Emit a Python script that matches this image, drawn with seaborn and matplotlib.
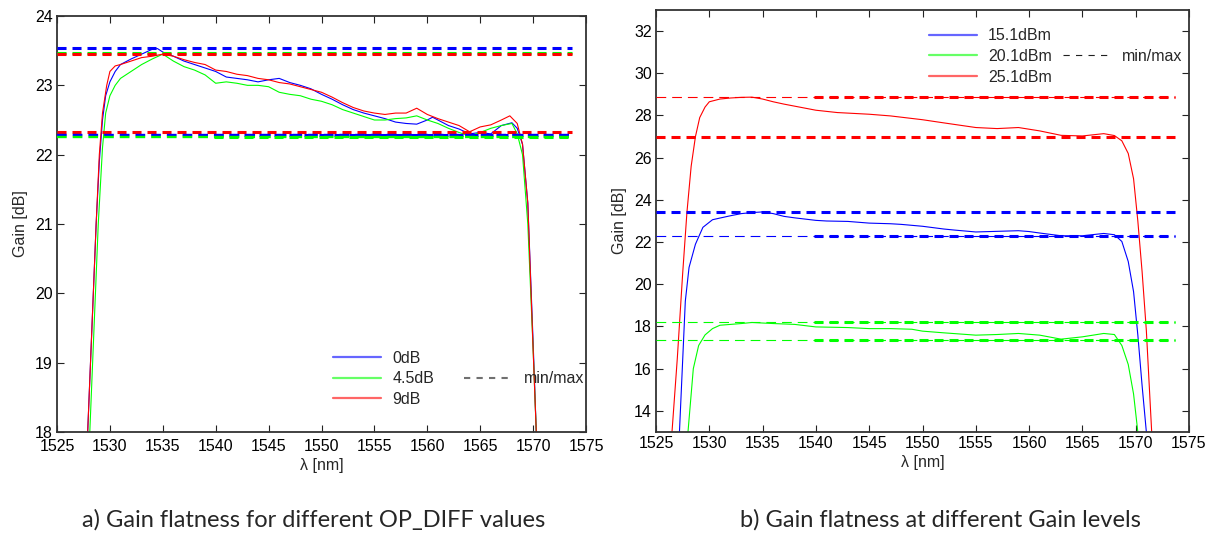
import numpy as np
import pandas as pd
import matplotlib
matplotlib.use("Agg")
import matplotlib.pyplot as plt
import seaborn as sns
from matplotlib.lines import Line2D

# ---------------- data: panel a) ----------------
a_labels = ["0dB", "4.5dB", "9dB"]
a_wl_0 = [1527.9, 1528.3, 1528.7, 1529.0, 1529.3, 1529.6, 1530.0, 1530.5, 1531, 1532, 1533, 1534, 1534.5,
          1535, 1536, 1537, 1538, 1539, 1540, 1541, 1542, 1543, 1544, 1545, 1546, 1547, 1548, 1549, 1550,
          1551, 1552, 1553, 1554, 1555, 1556, 1557, 1558, 1559, 1560, 1560.5, 1561, 1562, 1563, 1564, 1565,
          1566, 1567, 1568, 1568.5, 1569, 1569.5, 1570, 1570.3]
a_g_0 = [18.0, 19.5, 21.0, 21.9, 22.5, 22.85, 23.05, 23.2, 23.3, 23.38, 23.45, 23.52, 23.53,
         23.48, 23.42, 23.35, 23.3, 23.25, 23.2, 23.12, 23.1, 23.08, 23.05, 23.08, 23.1, 23.04, 23.0, 22.95, 22.87,
         22.8, 22.72, 22.65, 22.6, 22.56, 22.52, 22.47, 22.45, 22.44, 22.5, 22.54, 22.5, 22.42, 22.37, 22.3, 22.32,
         22.3, 22.42, 22.46, 22.38, 22.15, 21.3, 19.3, 18.0]
a_wl_45 = [1528.1, 1528.5, 1528.9, 1529.3, 1529.6, 1530.0, 1530.5, 1531, 1532, 1533, 1534, 1535, 1536, 1537,
           1538, 1539, 1540, 1541, 1542, 1543, 1544, 1545, 1546, 1547, 1548, 1549, 1550, 1551, 1552, 1553,
           1554, 1555, 1556, 1557, 1558, 1559, 1560, 1561, 1562, 1563, 1564, 1565, 1566, 1567, 1568, 1568.5,
           1569, 1569.5, 1570, 1570.3]
a_g_45 = [18.0, 19.5, 21.0, 22.1, 22.6, 22.85, 23.0, 23.1, 23.2, 23.3, 23.38, 23.45, 23.35, 23.27,
          23.22, 23.15, 23.03, 23.05, 23.03, 23.0, 23.0, 22.98, 22.9, 22.87, 22.85, 22.8, 22.77, 22.72, 22.65, 22.6,
          22.55, 22.5, 22.5, 22.52, 22.53, 22.56, 22.5, 22.45, 22.38, 22.32, 22.27, 22.32, 22.38, 22.42, 22.45, 22.3,
          22.0, 21.0, 19.2, 18.0]
a_wl_9 = [1527.9, 1528.3, 1528.7, 1529.0, 1529.3, 1529.7, 1530.0, 1530.5, 1531, 1532, 1533, 1534, 1535, 1536,
          1537, 1538, 1539, 1540, 1541, 1542, 1543, 1544, 1545, 1546, 1547, 1548, 1549, 1550, 1551, 1552,
          1553, 1554, 1555, 1556, 1557, 1558, 1559, 1560, 1561, 1562, 1563, 1564, 1565, 1566, 1567, 1567.8,
          1568.5, 1569, 1569.5, 1570, 1570.3]
a_g_9 = [18.0, 19.5, 21.0, 22.0, 22.6, 23.0, 23.2, 23.28, 23.3, 23.35, 23.4, 23.42, 23.45, 23.42,
         23.37, 23.33, 23.3, 23.22, 23.2, 23.16, 23.14, 23.1, 23.08, 23.04, 23.02, 22.98, 22.94, 22.9, 22.83, 22.75,
         22.68, 22.63, 22.6, 22.58, 22.6, 22.6, 22.67, 22.58, 22.52, 22.47, 22.42, 22.33, 22.4, 22.43, 22.5, 22.56,
         22.45, 22.15, 21.3, 19.2, 18.0]
a_max = [23.54, 23.47, 23.45]
a_min = [22.29, 22.26, 22.32]

# ---------------- data: panel b) ----------------
b_labels = ["15.1dBm", "20.1dBm", "25.1dBm"]
b_wl_15 = [1527.2, 1527.75, 1528.1, 1528.7, 1529.4, 1530.3, 1531, 1532, 1533, 1534, 1535, 1536, 1537, 1538,
           1540, 1541, 1543, 1545, 1547, 1548, 1550, 1552, 1553, 1555, 1557, 1559, 1560, 1561, 1563, 1565,
           1567, 1568, 1568.7, 1569.3, 1569.8, 1570.2, 1570.6, 1571.0]
b_g_15 = [13.0, 19.2, 20.8, 21.9, 22.7, 23.06, 23.14, 23.25, 23.35, 23.4, 23.43, 23.35, 23.22, 23.15,
          23.03, 23.0, 22.98, 22.9, 22.87, 22.84, 22.75, 22.62, 22.57, 22.48, 22.51, 22.54, 22.5, 22.43, 22.3, 22.3,
          22.41, 22.35, 22.03, 21.08, 19.65, 17.6, 15.2, 13.0]
b_wl_20 = [1528.0, 1528.5, 1529.0, 1529.6, 1530.3, 1531, 1533, 1534, 1536, 1538, 1540, 1543, 1545, 1547,
           1549, 1550, 1552, 1555, 1557, 1559, 1561, 1563, 1565, 1567, 1568, 1568.7, 1569.3, 1569.8, 1570.2]
b_g_20 = [13.0, 16.0, 17.1, 17.6, 17.9, 18.06, 18.14, 18.19, 18.14, 18.1, 17.98, 17.95, 17.9, 17.9,
          17.87, 17.78, 17.7, 17.59, 17.62, 17.67, 17.59, 17.4, 17.51, 17.67, 17.62, 17.1, 16.2, 14.8, 13.0]
b_wl_25 = [1526.5, 1527.0, 1527.5, 1527.9, 1528.3, 1528.7, 1529.1, 1529.6, 1530, 1531, 1532, 1533, 1534,
           1535, 1536, 1537, 1540, 1542, 1545, 1547, 1550, 1552, 1555, 1557, 1559, 1561, 1563, 1565, 1567,
           1568, 1568.7, 1569.3, 1569.8, 1570.2, 1570.6, 1571.0, 1571.5]
b_g_25 = [13.0, 16.5, 20.5, 23.4, 25.6, 27.0, 27.9, 28.4, 28.65, 28.78, 28.83, 28.86, 28.87,
          28.78, 28.65, 28.54, 28.25, 28.14, 28.06, 27.98, 27.8, 27.65, 27.43, 27.38, 27.43, 27.27, 27.06, 27.03, 27.14,
          27.05, 26.8, 26.2, 25.0, 23.0, 20.6, 17.8, 13.0]
b_max = [23.41, 18.22, 28.89]
b_min = [22.27, 17.38, 26.98]

colors = ["#0000ff", "#00ff00", "#ff0000"]

sns.set_theme(style="white")
plt.rcParams['font.family'] = ['Liberation Sans', 'DejaVu Sans']
plt.rcParams['lines.scale_dashes'] = False

FS = 11.5

fig = plt.figure(figsize=(12.13, 5.48), dpi=100)
axL = fig.add_axes([57/1213, 116/548, 529/1213, 416/548])
axR = fig.add_axes([656/1213, 116/548, 533/1213, 422/548])


def long_df(wls, gains, labels):
    frames = []
    for w, g, lab in zip(wls, gains, labels):
        frames.append(pd.DataFrame({"wl": w, "gain": g, "series": lab}))
    return pd.concat(frames, ignore_index=True)


dfa = long_df([a_wl_0, a_wl_45, a_wl_9], [a_g_0, a_g_45, a_g_9], a_labels)
dfb = long_df([b_wl_15, b_wl_20, b_wl_25], [b_g_15, b_g_20, b_g_25], b_labels)

DASH_THICK = (0, (6.5, 4.3))
DASH_THIN = (0, (7.0, 4.3))
X_END = 1573.7
X_SPLIT = 1539.8


def minmax(ax, y, color, thin_lw):
    if thin_lw is None:
        ax.hlines(y, 1525, X_END, colors=color, lw=2.2, linestyles=[DASH_THICK], zorder=3)
    else:
        ax.hlines(y, 1525, X_END, colors=color, lw=thin_lw, linestyles=[DASH_THIN], zorder=3)
        ax.hlines(y, X_SPLIT, X_END, colors=color, lw=2.2, linestyles=[DASH_THICK], zorder=3)


def style(ax, ylim, yticks, xpad):
    ax.set_xlim(1525, 1575)
    ax.set_ylim(*ylim)
    ax.set_xticks(np.arange(1525, 1576, 5))
    ax.set_yticks(yticks)
    ax.tick_params(axis='both', direction='in', length=5, width=0.8, color='#222222',
                   top=True, right=True, bottom=True, left=True, labelsize=FS, labelcolor='black')
    ax.tick_params(axis='x', pad=xpad)
    ax.tick_params(axis='y', pad=3)
    for s in ax.spines.values():
        s.set_color('#333333')
        s.set_linewidth(1.3)
    ax.set_xlabel("λ [nm]", fontsize=FS, labelpad=3)
    ax.set_ylabel("Gain [dB]", fontsize=FS, labelpad=5)
    ax.grid(False)


# panel a
sns.lineplot(data=dfa, x="wl", y="gain", hue="series", palette=colors, hue_order=a_labels,
             estimator=None, sort=False, lw=0.8, legend=False, ax=axL, zorder=2)
minmax(axL, a_max[0], colors[0], None)
minmax(axL, a_max[1], colors[1], None)
minmax(axL, a_max[2], colors[2], None)
minmax(axL, a_min[2], colors[2], None)
minmax(axL, a_min[0], colors[0], 1.7)
minmax(axL, a_min[1], colors[1], 1.7)
style(axL, (18, 24), np.arange(18, 25, 1), 5)

# panel b
sns.lineplot(data=dfb, x="wl", y="gain", hue="series", palette=colors, hue_order=b_labels,
             estimator=None, sort=False, lw=0.8, legend=False, ax=axR, zorder=2)
minmax(axR, b_max[2], colors[2], 0.8)
minmax(axR, b_min[2], colors[2], None)
minmax(axR, b_max[0], colors[0], None)
minmax(axR, b_min[0], colors[0], 0.8)
minmax(axR, b_max[1], colors[1], 0.8)
minmax(axR, b_min[1], colors[1], 0.8)
style(axR, (13, 33), np.arange(14, 33, 2), 3)


def legend(ax, labels, mm_color, mm_lw, colspace, anchor):
    hs = [Line2D([], [], color=c, lw=1.6, alpha=0.6) for c in colors]
    blank = Line2D([], [], linestyle='none')
    mm = Line2D([], [], color=mm_color, lw=mm_lw, linestyle=(0, (4.5, 4.5)))
    handles = hs + [blank, mm, blank]
    labs = labels + ["", "min/max", ""]
    ax.legend(handles, labs, ncol=2, frameon=False, loc='center left', bbox_to_anchor=anchor,
              handlelength=3.0, handletextpad=0.7, columnspacing=colspace, labelspacing=0.35,
              fontsize=FS, borderpad=0, borderaxespad=0)


legend(axL, a_labels, '#707070', 1.5, 1.9, (0.522, 0.128))
legend(axR, b_labels, '#202020', 0.8, 0.7, (0.512, 0.89))

fig.text(314/1213, 1 - 520/548, "a) Gain flatness for different OP_DIFF values",
         ha='center', va='center', fontsize=17, family=['Lato', 'DejaVu Sans'])
fig.text(940/1213, 1 - 520/548, "b) Gain flatness at different Gain levels",
         ha='center', va='center', fontsize=17, family=['Lato', 'DejaVu Sans'])

fig.savefig("out.png", dpi=100, facecolor='white')
